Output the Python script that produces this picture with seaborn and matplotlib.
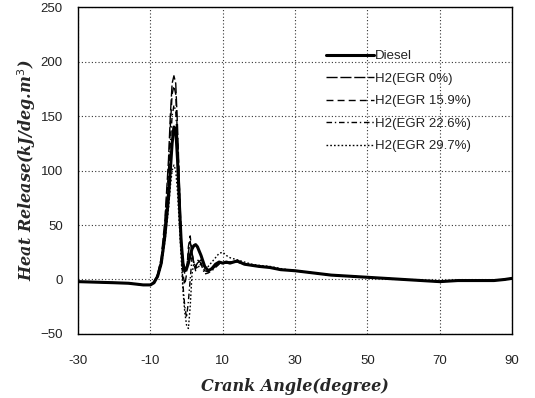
import numpy as np
import pandas as pd
import matplotlib
matplotlib.use("Agg")
import matplotlib.pyplot as plt
import seaborn as sns

# Crank angle sample positions (degree)
crank = [-30, -25, -20, -16, -12, -10, -9, -8, -7, -6, -5, -4.5, -4, -3.5, -3, -2.5, -2, -1.5,
         -1, -0.5, 0, 0.5, 1, 1.5, 2, 2.5, 3, 4, 5, 6, 7, 8, 9, 10, 11, 12, 14, 16, 18, 20,
         23, 26, 30, 35, 40, 45, 50, 55, 60, 65, 70, 75, 80, 85, 88, 90]

diesel = [-2, -2.5, -3, -3.5, -5, -5, -3, 3, 15, 40, 75, 100, 125, 140, 138, 110, 70, 35,
          15, 8, 10, 15, 22, 28, 31, 32, 30, 22, 12, 8, 10, 14, 16, 15, 16, 15, 17, 14, 13, 12,
          11, 9, 8, 6, 4, 3, 2, 1, 0, -1, -2, -1, -1, -1, 0, 1]
h2_egr0 = [-2, -2.5, -3, -3.5, -5, -5, -2, 5, 20, 55, 110, 150, 180, 187, 180, 140, 90, 40,
           15, 5, 10, 25, 35, 25, 15, 12, 15, 18, 12, 8, 10, 13, 15, 16, 15, 16, 17, 14, 13, 12,
           11, 9, 8, 6, 4, 3, 2, 1, 0, -1, -2, -1, -1, -1, 0, 1]
h2_egr159 = [-2, -2.5, -3, -3.5, -5, -5, -2, 4, 18, 50, 100, 140, 170, 178, 170, 130, 85, 35,
             5, -5, 5, 30, 40, 25, 15, 10, 18, 15, 8, 7, 9, 12, 14, 15, 15, 16, 16, 14, 13, 12,
             11, 9, 8, 6, 4, 3, 2, 1, 0, -1, -2, -1, -1, -1, 0, 1]
h2_egr226 = [-2, -2.5, -3, -3.5, -5, -5, -2, 3, 15, 45, 90, 125, 150, 160, 155, 120, 80, 30,
             -5, -25, -35, -20, 0, 20, 15, 8, 12, 14, 5, 6, 8, 11, 14, 15, 15, 16, 16, 14, 13, 12,
             11, 9, 8, 6, 4, 3, 2, 1, 0, -1, -2, -1, -1, -1, 0, 1]
h2_egr297 = [-2, -2.5, -3, -3.5, -5, -5, -2, 2, 12, 35, 65, 85, 100, 105, 100, 80, 50, 20,
             -10, -30, -42, -45, -25, 5, 15, 12, 10, 15, 10, 12, 16, 20, 24, 25, 22, 20, 18, 16, 14, 13,
             12, 10, 8, 6, 4, 3, 2, 1, 0, -1, -2, -1, -1, -1, 0, 1]

series_names = ["Diesel", "H2(EGR 0%)", "H2(EGR 15.9%)", "H2(EGR 22.6%)", "H2(EGR 29.7%)"]
series_vals = [diesel, h2_egr0, h2_egr159, h2_egr226, h2_egr297]

x_ticks = [-30, -10, 10, 30, 50, 70, 90]
y_ticks = [-50, 0, 50, 100, 150, 200, 250]

sns.set_style("white")
plt.rcParams['font.family'] = ['Liberation Sans', 'DejaVu Sans']

fig = plt.figure(figsize=(5.35, 3.98), dpi=100)
ax = fig.add_axes([0.146, 0.161, 0.811, 0.821])

styles = [
    dict(lw=2.2, ls='-'),
    dict(lw=1.0, ls=(0, (8, 2))),
    dict(lw=1.0, ls=(0, (5, 3))),
    dict(lw=1.0, ls=(0, (4, 2, 1, 2))),
    dict(lw=1.0, ls=(0, (1.2, 1.5))),
]

for name, vals, st in zip(series_names, series_vals, styles):
    df = pd.DataFrame({"Crank": crank, "HR": vals})
    sns.lineplot(data=df, x="Crank", y="HR", ax=ax, color="black",
                 linewidth=st['lw'], linestyle=st['ls'], label=name, sort=False)

ax.set_xlim(-30, 90)
ax.set_ylim(-50, 250)
ax.set_xticks(x_ticks)
ax.set_yticks(y_ticks)
ax.set_xticklabels([str(t) for t in x_ticks])
ax.tick_params(axis='both', length=0, labelsize=9.5, colors='#222222')
ax.tick_params(axis='x', pad=15)
ax.tick_params(axis='y', pad=11)
ax.grid(True, linestyle=(0, (1, 2)), color='#333333', linewidth=0.8)
for sp in ax.spines.values():
    sp.set_color('black')
    sp.set_linewidth(1.0)

lab_font = dict(family='DejaVu Serif', weight='bold', style='italic', size=11.5)
ax.set_xlabel("Crank Angle(degree)", fontdict=lab_font, labelpad=8)
ax.set_ylabel("Heat Release(kJ/deg.m$^3$)", fontdict=lab_font, labelpad=2)

leg = ax.legend(loc='upper left', bbox_to_anchor=(0.56, 0.885), frameon=False,
                fontsize=9.5, handlelength=3.6, handletextpad=0.1, labelspacing=0.78,
                borderaxespad=0)
for t in leg.get_texts():
    t.set_color('#222222')

fig.savefig("out.png", dpi=100, facecolor='white')
